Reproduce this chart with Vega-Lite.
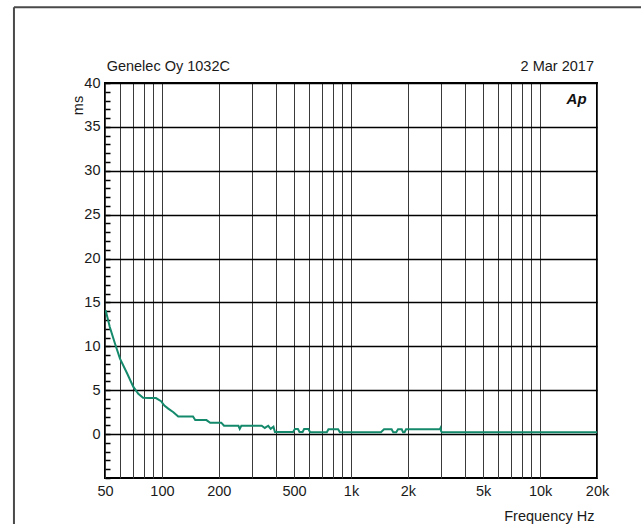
{
  "$schema": "https://vega.github.io/schema/vega-lite/v6.json",
  "width": 492,
  "height": 395,
  "autosize": "none",
  "padding": {"left": 105, "top": 83, "right": 44, "bottom": 46},
  "background": "white",
  "config": {
    "font": "Liberation Sans",
    "view": {"stroke": "black", "strokeWidth": 2},
    "axis": {"labelFont": "Liberation Sans", "titleFont": "Liberation Sans", "labelColor": "#1a1a1a", "titleColor": "#1a1a1a", "titleFontWeight": "normal"}
  },
  "resolve": {"scale": {"x": "shared", "y": "shared"}, "axis": {"x": "independent", "y": "independent"}},
  "layer": [
    {
      "data": {"values": [
        {"f": 50.4, "ms": 14.1}, {"f": 53, "ms": 12.2}, {"f": 56.5, "ms": 10.3}, {"f": 60, "ms": 8.6},
        {"f": 65.5, "ms": 6.9}, {"f": 70.5, "ms": 5.4}, {"f": 75, "ms": 4.6}, {"f": 79.5, "ms": 4.15},
        {"f": 86, "ms": 4.1}, {"f": 93, "ms": 4.1}, {"f": 99, "ms": 3.75}, {"f": 103, "ms": 3.25},
        {"f": 108, "ms": 2.9}, {"f": 115, "ms": 2.5}, {"f": 122, "ms": 2.0}, {"f": 146, "ms": 2.0},
        {"f": 150, "ms": 1.6}, {"f": 172, "ms": 1.6}, {"f": 180, "ms": 1.3}, {"f": 206, "ms": 1.3},
        {"f": 213, "ms": 0.95}, {"f": 254, "ms": 0.95}, {"f": 258, "ms": 0.6}, {"f": 263, "ms": 0.95},
        {"f": 337, "ms": 0.95}, {"f": 350, "ms": 0.7}, {"f": 365, "ms": 0.95}, {"f": 376, "ms": 0.6},
        {"f": 389, "ms": 0.85}, {"f": 396, "ms": 0.25}, {"f": 494, "ms": 0.25}, {"f": 505, "ms": 0.58},
        {"f": 524, "ms": 0.58}, {"f": 534, "ms": 0.25}, {"f": 555, "ms": 0.25}, {"f": 565, "ms": 0.58},
        {"f": 595, "ms": 0.58}, {"f": 608, "ms": 0.22}, {"f": 745, "ms": 0.22}, {"f": 760, "ms": 0.55},
        {"f": 855, "ms": 0.55}, {"f": 873, "ms": 0.22}, {"f": 1440, "ms": 0.22}, {"f": 1495, "ms": 0.55},
        {"f": 1640, "ms": 0.55}, {"f": 1672, "ms": 0.22}, {"f": 1735, "ms": 0.22}, {"f": 1773, "ms": 0.55},
        {"f": 1855, "ms": 0.55}, {"f": 1885, "ms": 0.22}, {"f": 1920, "ms": 0.22}, {"f": 1955, "ms": 0.55},
        {"f": 2950, "ms": 0.55}, {"f": 2975, "ms": 0.7}, {"f": 3000, "ms": 0.3}, {"f": 3030, "ms": 0.22},
        {"f": 20000, "ms": 0.22}
      ]},
      "mark": {"type": "line", "color": "#14896b", "strokeWidth": 2},
      "encoding": {
        "x": {
          "field": "f", "type": "quantitative",
          "scale": {"type": "log", "domain": [50, 20000], "nice": false},
          "axis": {
            "orient": "bottom",
            "values": [50,60,70,80,90,100,200,300,400,500,600,700,800,900,1000,2000,3000,4000,5000,6000,7000,8000,9000,10000,20000],
            "grid": true, "gridColor": "#3a3a3a", "gridWidth": 1, "gridOpacity": 1,
            "ticks": false, "domain": false,
            "labelExpr": "indexof([50,100,200,500,1000,2000,5000,10000,20000], datum.value) >= 0 ? (datum.value >= 1000 ? (datum.value/1000) + 'k' : '' + datum.value) : ''",
            "labelFlush": false, "labelOverlap": false, "labelBound": false,
            "labelPadding": 6, "labelFontSize": 14.5,
            "title": "Frequency Hz", "titleFontSize": 14.5,
            "titleX": 489, "titleY": 38, "titleAlign": "right", "titleBaseline": "middle", "titleAnchor": "end"
          }
        },
        "y": {
          "field": "ms", "type": "quantitative",
          "scale": {"domain": [-5, 40], "nice": false, "zero": false},
          "axis": {
            "orient": "left",
            "values": [-5,-4,-3,-2,-1,0,1,2,3,4,5,6,7,8,9,10,11,12,13,14,15,16,17,18,19,20,21,22,23,24,25,26,27,28,29,30,31,32,33,34,35,36,37,38,39,40],
            "grid": true, "gridColor": "black", "gridWidth": 1.5,
            "gridOpacity": {"condition": {"test": "datum.value % 5 === 0 && datum.value > -5", "value": 1}, "value": 0},
            "ticks": true, "tickSize": -5, "tickColor": "black", "tickWidth": 1.5,
            "domain": false,
            "labelExpr": "datum.value % 5 === 0 && datum.value >= 0 ? datum.label : ''",
            "labelPadding": 10, "labelFontSize": 14.5, "labelOverlap": false, "labelBound": false, "labelFlush": false,
            "title": "ms", "titleFontSize": 14.5, "titleAngle": -90,
            "titleX": -27, "titleY": 22, "titleAlign": "center", "titleBaseline": "middle"
          }
        }
      }
    },
    {
      "data": {"values": [{"label": "Genelec Oy 1032C"}]},
      "mark": {"type": "text", "align": "left", "baseline": "alphabetic", "fontSize": 14.5, "color": "#1a1a1a"},
      "encoding": {
        "x": {"datum": 51, "type": "quantitative", "scale": {"type": "log", "domain": [50, 20000], "nice": false}, "axis": null},
        "y": {"datum": 41.4, "type": "quantitative", "scale": {"domain": [-5, 40], "nice": false, "zero": false}, "axis": null},
        "text": {"field": "label"}
      }
    },
    {
      "data": {"values": [{"label": "2 Mar 2017"}]},
      "mark": {"type": "text", "align": "right", "baseline": "alphabetic", "fontSize": 14.5, "color": "#1a1a1a"},
      "encoding": {
        "x": {"datum": 19275, "type": "quantitative", "scale": {"type": "log", "domain": [50, 20000], "nice": false}, "axis": null},
        "y": {"datum": 41.4, "type": "quantitative", "scale": {"domain": [-5, 40], "nice": false, "zero": false}, "axis": null},
        "text": {"field": "label"}
      }
    },
    {
      "data": {"values": [{"label": "Ap"}]},
      "mark": {"type": "text", "align": "right", "baseline": "alphabetic", "fontSize": 15, "fontWeight": "bold", "fontStyle": "italic", "color": "#111111"},
      "encoding": {
        "x": {"datum": 17620, "type": "quantitative", "scale": {"type": "log", "domain": [50, 20000], "nice": false}, "axis": null},
        "y": {"datum": 37.6, "type": "quantitative", "scale": {"domain": [-5, 40], "nice": false, "zero": false}, "axis": null},
        "text": {"field": "label"}
      }
    },
    {
      "data": {"values": [{"edge": "top"}]},
      "mark": {"type": "rule", "color": "#4a4a4a", "strokeWidth": 2, "clip": false},
      "encoding": {
        "x": {"datum": 16.5, "type": "quantitative", "scale": {"type": "log", "domain": [50, 20000], "nice": false}, "axis": null},
        "x2": {"datum": 40000},
        "y": {"datum": 48.64, "type": "quantitative", "scale": {"domain": [-5, 40], "nice": false, "zero": false}, "axis": null}
      }
    },
    {
      "data": {"values": [{"edge": "left"}]},
      "mark": {"type": "rule", "color": "#4a4a4a", "strokeWidth": 2, "clip": false},
      "encoding": {
        "x": {"datum": 16.5, "type": "quantitative", "scale": {"type": "log", "domain": [50, 20000], "nice": false}, "axis": null},
        "y": {"datum": 48.64, "type": "quantitative", "scale": {"domain": [-5, 40], "nice": false, "zero": false}, "axis": null},
        "y2": {"datum": -12}
      }
    }
  ]
}
